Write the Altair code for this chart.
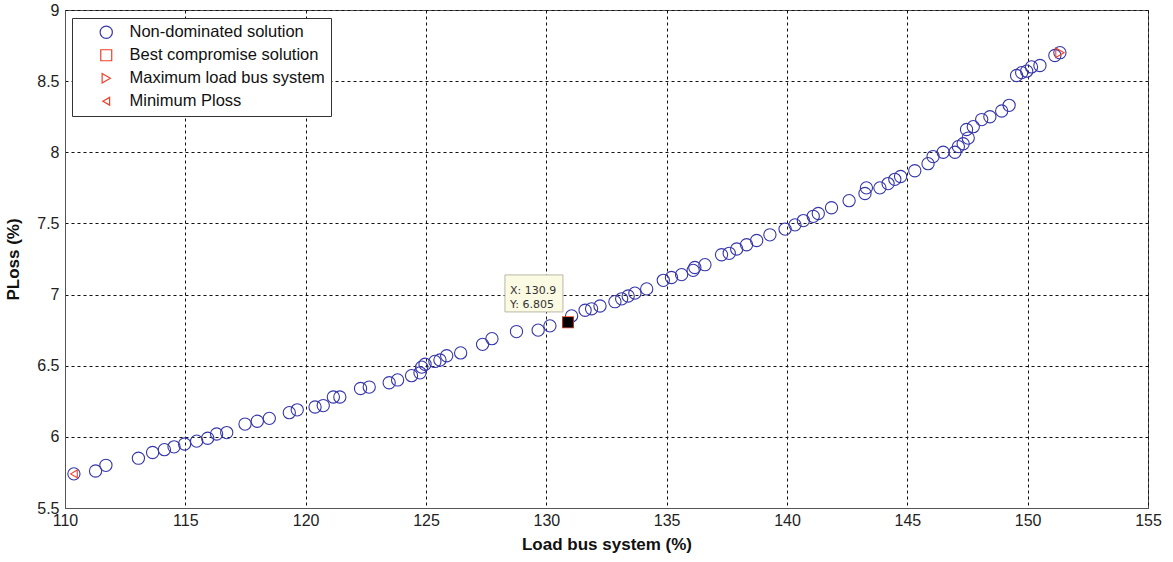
import altair as alt
import pandas as pd

# Non-dominated solutions (Load bus system %, PLoss %)
load_bus = [110.37, 111.27, 111.70, 113.05, 113.64, 114.13, 114.53, 114.97, 115.47, 115.93,
            116.30, 116.72, 117.48, 117.99, 118.49, 119.32, 119.65, 120.39, 120.73, 121.15,
            121.42, 122.28, 122.64, 123.47, 123.82, 124.40, 124.75, 124.82, 124.96, 125.37,
            125.58, 125.86, 126.44, 127.35, 127.74, 128.76, 129.66, 130.15, 131.05, 131.61,
            131.88, 132.23, 132.85, 133.13, 133.40, 133.68, 134.17, 134.86, 135.20, 135.62,
            136.10, 136.17, 136.59, 137.28, 137.60, 137.91, 138.32, 138.74, 139.29, 139.92,
            140.33, 140.68, 141.09, 141.30, 141.85, 142.58, 143.24, 143.30, 143.86, 144.20,
            144.48, 144.72, 145.31, 145.86, 146.07, 146.49, 146.98, 147.12, 147.32, 147.53,
            147.46, 147.74, 148.09, 148.43, 148.92, 149.23, 149.54, 149.75, 149.96, 150.16,
            150.51, 151.13, 151.34]
ploss = [5.74, 5.76, 5.80, 5.85, 5.89, 5.91, 5.93, 5.95, 5.97, 5.99,
         6.02, 6.03, 6.09, 6.11, 6.13, 6.17, 6.19, 6.21, 6.22, 6.28,
         6.28, 6.34, 6.35, 6.38, 6.40, 6.43, 6.45, 6.49, 6.51, 6.53,
         6.54, 6.57, 6.59, 6.65, 6.69, 6.74, 6.75, 6.78, 6.85, 6.89,
         6.90, 6.92, 6.95, 6.97, 6.99, 7.01, 7.04, 7.10, 7.12, 7.14,
         7.17, 7.19, 7.21, 7.28, 7.29, 7.32, 7.35, 7.38, 7.42, 7.46,
         7.49, 7.52, 7.55, 7.57, 7.61, 7.66, 7.71, 7.75, 7.75, 7.78,
         7.81, 7.83, 7.87, 7.92, 7.97, 8.00, 8.00, 8.04, 8.06, 8.10,
         8.16, 8.18, 8.23, 8.25, 8.29, 8.33, 8.54, 8.56, 8.57, 8.60,
         8.61, 8.68, 8.70]

series_names = ["Non-dominated solution", "Best compromise solution",
                "Maximum load bus system", "Minimum Ploss"]
special_x = [130.9, 151.34, 110.37]
special_y = [6.805, 8.70, 5.74]

x_ticks = [110, 115, 120, 125, 130, 135, 140, 145, 150, 155]
y_ticks = [5.5, 6, 6.5, 7, 7.5, 8, 8.5, 9]

# data tip annotation
tip_x, tip_y = 130.9, 6.805
tip_lines = ["X: 130.9", "Y: 6.805"]
tip_box_x = [128.28, 130.69]
tip_box_y = [6.878, 7.138]
tip_text_x = 128.49
tip_text_y = [7.027, 6.927]

rows = [{"load": a, "ploss": b, "series": series_names[0]} for a, b in zip(load_bus, ploss)]
for name, a, b in zip(series_names[1:], special_x, special_y):
    rows.append({"load": a, "ploss": b, "series": name})
df = pd.DataFrame(rows)

BLUE = "#3636ac"
RED = "#f0402a"
FONT = "Liberation Sans"

xscale = alt.Scale(domain=[110, 155], nice=False, zero=False)
yscale = alt.Scale(domain=[5.5, 9], nice=False, zero=False)

points = alt.Chart(df).mark_point(filled=False, strokeWidth=1.1, opacity=1).encode(
    x=alt.X("load:Q", scale=xscale, title="Load bus system (%)",
            axis=alt.Axis(values=x_ticks, format="~g", grid=True, labelFlush=False)),
    y=alt.Y("ploss:Q", scale=yscale, title="PLoss (%)",
            axis=alt.Axis(values=y_ticks, format="~g", grid=True, labelFlush=False)),
    color=alt.Color("series:N", scale=alt.Scale(domain=series_names, range=[BLUE, RED, RED, RED]),
                    legend=alt.Legend(title=None, orient="none", legendX=7, legendY=8,
                                      fillColor="white", strokeColor="#333", padding=6,
                                      labelFontSize=16.5, labelFont=FONT, labelColor="#111",
                                      rowPadding=6, symbolOffset=20, labelOffset=15,
                                      symbolStrokeWidth=1.2, labelLimit=400)),
    shape=alt.Shape("series:N", scale=alt.Scale(domain=series_names,
                    range=["circle", "square", "triangle-right", "triangle-left"])),
    size=alt.Size("series:N", scale=alt.Scale(domain=series_names, range=[150, 60, 80, 80])),
)

tip_df = pd.DataFrame({"load": [tip_x], "ploss": [tip_y]})
tip_marker = alt.Chart(tip_df).mark_square(color="black", size=110, opacity=1).encode(
    x=alt.X("load:Q", scale=xscale), y=alt.Y("ploss:Q", scale=yscale))

box_df = pd.DataFrame({"x1": [tip_box_x[0]], "x2": [tip_box_x[1]],
                       "y1": [tip_box_y[0]], "y2": [tip_box_y[1]]})
tip_box = alt.Chart(box_df).mark_rect(fill="#fbfae3", stroke="#b8b8a8", strokeWidth=1).encode(
    x=alt.X("x1:Q", scale=xscale), x2="x2:Q",
    y=alt.Y("y1:Q", scale=yscale), y2="y2:Q")

txt_df = pd.DataFrame({"load": [tip_text_x] * 2, "ploss": tip_text_y, "t": tip_lines})
tip_text = alt.Chart(txt_df).mark_text(align="left", baseline="middle", font="DejaVu Sans",
                                       fontSize=11, color="#333").encode(
    x=alt.X("load:Q", scale=xscale), y=alt.Y("ploss:Q", scale=yscale), text="t:N")

chart = alt.layer(points, tip_marker, tip_box, tip_text).properties(
    width=1083, height=498,
    autosize=alt.AutoSizeParams(type="none"),
    padding={"left": 65, "top": 10, "right": 25, "bottom": 54},
    background="white",
).configure_view(stroke="#555", strokeWidth=1).configure_axis(
    gridColor="#111", gridDash=[3, 3], gridWidth=1, gridOpacity=1,
    domainColor="#555", tickColor="#555", ticks=False,
    labelFont=FONT, labelFontSize=16, labelColor="#222",
    titleFont=FONT, titleFontSize=17, titleFontWeight="bold", titleColor="#111",
).configure_axisX(labelPadding=4, titlePadding=8).configure_axisY(labelPadding=6, titlePadding=14)

chart.save("out.html", embed_options={"renderer": "svg", "actions": False})
